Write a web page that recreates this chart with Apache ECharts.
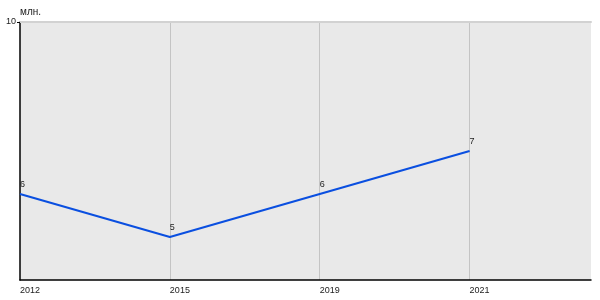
<!DOCTYPE html>
<html><head><meta charset="utf-8">
<script src="https://cdn.jsdelivr.net/npm/echarts@6/dist/echarts.min.js"></script>
<style>html,body{margin:0;padding:0;background:#fff}#c{width:600px;height:300px}</style>
</head><body><div id="c"></div>
<script>
const categories = ['2012', '2015', '2019', '2021'];
const values = [6, 5, 6, 7];
const yTickLabels = [10];
const yUnit = 'млн.';

const chart = echarts.init(document.getElementById('c'), null, {renderer: 'canvas'});
const txt = {fontFamily: 'Liberation Sans, Arial, sans-serif', fontSize: 9, color: '#222'};
chart.setOption({
  animation: false,
  grid: {left: 20, right: 9, top: 22, bottom: 20, show: true, backgroundColor: '#e9e9e9', borderWidth: 0},
  xAxis: [{
    type: 'value', min: 0, max: 3.81, interval: 1,
    axisLine: {show: true, lineStyle: {color: '#000', width: 1.5}},
    axisTick: {show: false},
    axisLabel: Object.assign({}, txt, {
      align: 'left', margin: 6,
      formatter: v => Number.isInteger(v) && categories[v] ? categories[v] : ''
    }),
    splitLine: {show: true, showMinLine: false, showMaxLine: false, lineStyle: {color: '#c4c4c4', width: 1}}
  }, {
    type: 'value', position: 'top', min: 0, max: 3.81,
    axisLine: {show: true, onZero: false, lineStyle: {color: '#d2d2d2', width: 2}},
    axisTick: {show: false}, axisLabel: {show: false}, splitLine: {show: false}
  }],
  yAxis: {
    type: 'value', min: 4, max: 10,
    name: yUnit, nameLocation: 'end', nameGap: 5,
    nameTextStyle: Object.assign({}, txt, {fontSize: 10, align: 'left'}),
    axisLine: {show: true, lineStyle: {color: '#000', width: 1.5}},
    axisTick: {show: true, length: 3, customValues: yTickLabels, lineStyle: {color: '#000'}},
    axisLabel: Object.assign({}, txt, {margin: 4, customValues: yTickLabels}),
    splitLine: {show: false}
  },
  series: [{
    type: 'line',
    data: values.map((v, i) => [i, v]),
    showSymbol: true, symbol: 'circle', symbolSize: 1,
    itemStyle: {color: 'rgba(0,0,0,0)', borderWidth: 0},
    lineStyle: {color: '#0a4fe0', width: 2},
    label: Object.assign({}, txt, {show: true, position: 'top', align: 'left', distance: 4,
      formatter: p => String(p.value[1])}),
    labelLayout: {hideOverlap: false}
  }]
});
</script></body></html>
